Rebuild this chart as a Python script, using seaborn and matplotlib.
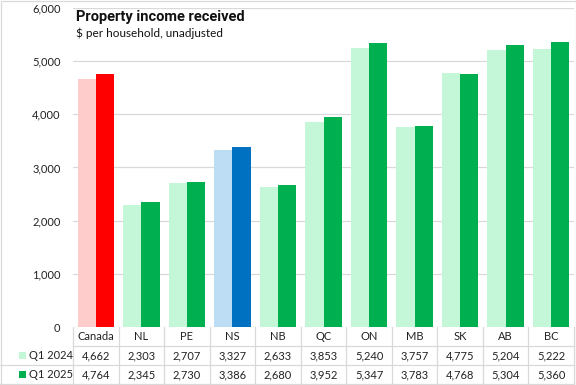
import matplotlib
matplotlib.use("Agg")
import matplotlib.pyplot as plt
import matplotlib.transforms as mtransforms
from matplotlib.lines import Line2D
from matplotlib.patches import Rectangle
import seaborn as sns
import pandas as pd

categories = ["Canada", "NL", "PE", "NS", "NB", "QC", "ON", "MB", "SK", "AB", "BC"]
series = ["Q1 2024", "Q1 2025"]
q1_2024 = [4662, 2303, 2707, 3327, 2633, 3853, 5240, 3757, 4775, 5204, 5222]
q1_2025 = [4764, 2345, 2730, 3386, 2680, 3952, 5347, 3783, 4768, 5304, 5360]
yticks = [0, 1000, 2000, 3000, 4000, 5000, 6000]

df = pd.DataFrame({
    "region": categories * 2,
    "period": [series[0]] * len(categories) + [series[1]] * len(categories),
    "value": q1_2024 + q1_2025,
})

sns.set_theme(style="white")
plt.rcParams['font.family'] = ['Lato', 'DejaVu Sans']

W, H = 576, 385
fig = plt.figure(figsize=(W / 100, H / 100), dpi=100)
L, R, T, B = 73, 574, 8, 327
ax = fig.add_axes([L / W, 1 - B / H, (R - L) / W, (B - T) / H])

light_green, dark_green = "#C3F7D8", "#00B050"
sns.barplot(data=df, x="region", y="value", hue="period", order=categories,
            hue_order=series, palette=[light_green, dark_green], width=0.8,
            saturation=1, ax=ax, legend=False)

special = {"Canada": ("#FFCCCC", "#FF0000"), "NS": ("#BDDDF5", "#0070C0")}
for hi, cont in enumerate(ax.containers):
    for ci, patch in enumerate(cont.patches):
        c = categories[ci]
        if c in special:
            patch.set_facecolor(special[c][hi])
        patch.set_edgecolor("none")

ax.set_xlim(-0.5, len(categories) - 0.5)
ax.set_ylim(0, 6000)
ax.set_yticks(yticks)
ax.set_yticklabels([f"{v:,}" for v in yticks], fontsize=8, color="#222222")
ax.tick_params(axis="y", length=0, pad=9)
ax.set_xticks([])
ax.set_xlabel("")
ax.set_ylabel("")
for s in ax.spines.values():
    s.set_visible(False)
ax.yaxis.grid(True, color="#D9D9D9", linewidth=0.9)
ax.set_axisbelow(True)

# Title
fig.text(76 / W, 1 - 17 / H, "Property income received", fontsize=10.5,
         fontweight="bold", family=["Roboto", "DejaVu Sans"], va="center", ha="left", color="#111111")
fig.text(76 / W, 1 - 33 / H, "$ per household, unadjusted", fontsize=8.5,
         va="center", ha="left", color="#111111")

# Data table
trans = mtransforms.blended_transform_factory(ax.transData, fig.transFigure)
row_y = [337, 355.5, 374.5]
for i, c in enumerate(categories):
    fig.text(0, 0, "")
    ax.text(i, 1 - row_y[0] / H, c, transform=trans, ha="center", va="center",
            fontsize=8, color="#222222", clip_on=False)
    ax.text(i, 1 - row_y[1] / H, f"{q1_2024[i]:,}", transform=trans, ha="center",
            va="center", fontsize=8, color="#222222", clip_on=False)
    ax.text(i, 1 - row_y[2] / H, f"{q1_2025[i]:,}", transform=trans, ha="center",
            va="center", fontsize=8, color="#222222", clip_on=False)

line_c = "#D9D9D9"
for ypix, x0 in [(346, L), (365, 0), (384, 0)]:
    fig.add_artist(Line2D([x0 / W, R / W], [1 - ypix / H, 1 - ypix / H],
                          color=line_c, lw=0.9, transform=fig.transFigure))
for k in range(len(categories) + 1):
    xk = k - 0.5
    ax.add_line(Line2D([xk, xk], [1 - B / H, 1 - 384 / H], color=line_c, lw=0.9,
                       transform=trans, clip_on=False))

# legend keys in table
for ri, (lab, col) in enumerate(zip(series, [light_green, dark_green])):
    yc = row_y[ri + 1]
    fig.add_artist(Rectangle((19 / W, 1 - (yc + 3.5) / H), 7 / W, 7 / H,
                             facecolor=col, edgecolor="none", transform=fig.transFigure))
    fig.text(29 / W, 1 - yc / H, lab, fontsize=8, va="center", ha="left", color="#222222")

fig.add_artist(Rectangle((0.5 / W, 0.5 / H), (W - 1) / W, (H - 1) / H, fill=False,
                         edgecolor="#D9D9D9", lw=0.9, transform=fig.transFigure))

fig.savefig("out.png", dpi=100)
